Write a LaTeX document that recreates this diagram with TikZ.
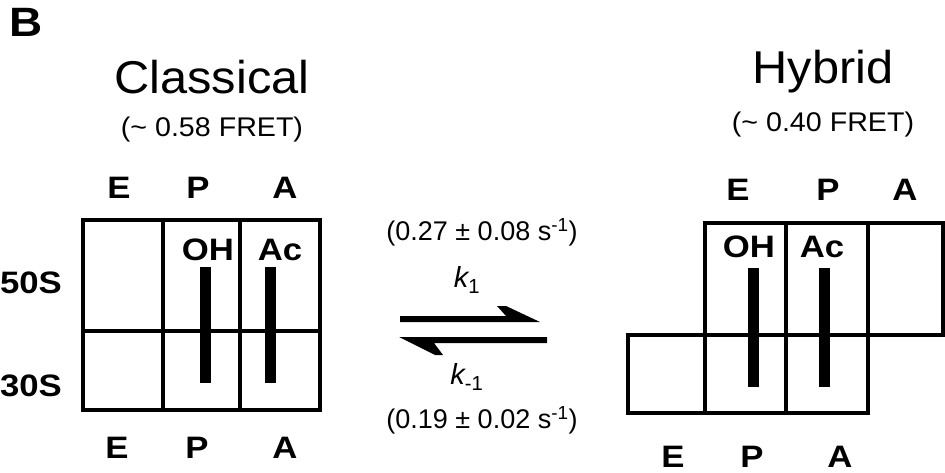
\documentclass[tikz,border=0pt]{standalone}
\usepackage{fontspec}
\setmainfont{Liberation Sans}
% the lettering is set slightly wide
\newcommand\widebold[1]{\scalebox{1.12}[1]{#1}}
\newcommand\widetext[1]{\scalebox{1.06}[1]{#1}}
\begin{document}
\begin{tikzpicture}[x=1pt,y=-1pt,
  every node/.style={inner sep=0pt, anchor=center},
  panel/.style={font=\fontsize{41}{41}\selectfont\bfseries},
  title/.style={font=\fontsize{46}{46}\selectfont},
  fret/.style={font=\fontsize{27}{27}\selectfont},
  site/.style={font=\fontsize{31}{31}\selectfont\bfseries},
  trna/.style={font=\fontsize{31}{31}\selectfont\bfseries},
  rate/.style={font=\fontsize{27}{27}\selectfont},
  konst/.style={font=\fontsize{29}{29}\selectfont},
  cell/.style={line width=3.6pt, line join=miter},
  tape/.style={fill=black, draw=none},
  harpoon/.style={fill=black, draw=none}]
\useasboundingbox (0,0) rectangle (945,473);

% panel letter
\node[panel] (B) at (26,22) {\widebold{B}};

% ---------- classical state ----------
\node[title] (ctitle) at (212,77) {\widetext{Classical}};
\node[fret] (cfret) at (212,130) {\widetext{(\textasciitilde\ 0.58 FRET)}};
\node[site] (cE) at (119,188) {\widebold{E}};
\node[site] (cP) at (198,188) {\widebold{P}};
\node[site] (cA) at (285,188) {\widebold{A}};

\draw[cell] (83,220) rectangle (320,410);
\draw[cell] (83,331) -- (320,331);
\draw[cell] (163,220) -- (163,410);
\draw[cell] (240,220) -- (240,410);

\node[trna] (cOH) at (208,250) {\widebold{OH}};
\node[trna] (cAc) at (280,250) {\widebold{Ac}};
\fill[tape] (199.5,267) rectangle (210.5,383);
\fill[tape] (265,267) rectangle (276,383);

\node[site] (c50) at (31,283) {\widebold{50S}};
\node[site] (c30) at (31,386) {\widebold{30S}};

\node[site] (cE2) at (117,448) {\widebold{E}};
\node[site] (cP2) at (197,448) {\widebold{P}};
\node[site] (cA2) at (285,448) {\widebold{A}};

% ---------- rates and equilibrium arrows ----------
\node[rate] (kf) at (482,232) {(0.27 \textpm\ 0.08 s\textsuperscript{-1})};
\node[konst] (k1) at (467,280) {\itshape k\upshape\textsubscript{1}};
\fill[harpoon] (400,316) -- (506,316) -- (497,306) -- (506,306)
  -- (540,322) -- (400,322) -- cycle;
\fill[harpoon] (547,337) -- (547,343) -- (434,343) -- (443,355)
  -- (435,355) -- (399,337) -- cycle;
\node[konst] (km1) at (467,377) {\itshape k\upshape\textsubscript{-1}};
\node[rate] (kr) at (482,420) {(0.19 \textpm\ 0.02 s\textsuperscript{-1})};

% ---------- hybrid state ----------
\node[title] (htitle) at (823,72) {\widetext{Hybrid}};
\node[fret] (hfret) at (823,125) {\widetext{(\textasciitilde\ 0.40 FRET)}};
\node[site] (hE) at (738,190) {\widebold{E}};
\node[site] (hP) at (828,190) {\widebold{P}};
\node[site] (hA) at (905,190) {\widebold{A}};

\draw[cell] (705,335) -- (705,223) -- (943,223) -- (943,335) -- (628,335)
  -- (628,413) -- (868,413) -- (868,223);
\draw[cell] (705,335) -- (705,413);
\draw[cell] (786,223) -- (786,413);

\node[trna] (hOH) at (749,247) {\widebold{OH}};
\node[trna] (hAc) at (822,247) {\widebold{Ac}};
\fill[tape] (747.5,268) rectangle (758.5,387);
\fill[tape] (818.5,268) rectangle (829.5,387);

\node[site] (hE2) at (673,457) {\widebold{E}};
\node[site] (hP2) at (752,457) {\widebold{P}};
\node[site] (hA2) at (840,457) {\widebold{A}};
\end{tikzpicture}
\end{document}
